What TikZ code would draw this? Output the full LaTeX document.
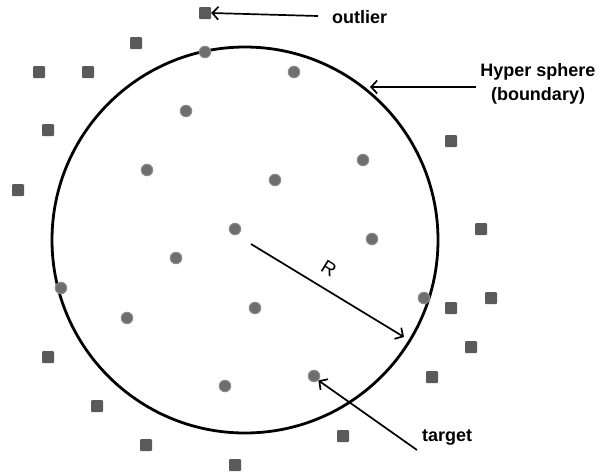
\documentclass[tikz,border=0pt]{standalone}
\usepackage{fontspec}
\setmainfont{Liberation Sans}
\usetikzlibrary{arrows.meta}
\definecolor{sqc}{HTML}{5A5A5A}
\definecolor{dotc}{HTML}{6E6E6E}
\definecolor{dotb}{HTML}{8C8C8C}
\begin{document}
\begin{tikzpicture}[x=1pt,y=-1pt,
 sq/.style={fill=sqc, draw=none, minimum size=12pt, inner sep=0pt, rounded corners=1pt},
 dot/.style={circle, fill=dotc, draw=dotb, line width=1pt, minimum size=11.5pt, inner sep=0pt},
 lbl/.style={font=\bfseries\fontsize{18}{24}\selectfont, inner sep=0pt},
 arr/.style={line width=1.7pt, -{Straight Barb[length=6pt,width=13pt,line width=1.7pt]}}]
\useasboundingbox[fill=white] (0,0) rectangle (608,475);
% hypersphere
\node[circle, draw, line width=2.8pt, minimum size=386pt, inner sep=0pt] (sph) at (245,240) {};
% squares (outliers)
\node[sq] (s1) at (205,13) {};
\node[sq] (s2) at (136,43) {};
\node[sq] (s3) at (39,72) {};
\node[sq] (s4) at (88,72) {};
\node[sq] (s5) at (48,130) {};
\node[sq] (s6) at (18,190) {};
\node[sq] (s7) at (451,141) {};
\node[sq] (s8) at (481,229) {};
\node[sq] (s9) at (491,298) {};
\node[sq] (s10) at (451,308) {};
\node[sq] (s11) at (471,347) {};
\node[sq] (s12) at (432,377) {};
\node[sq] (s13) at (48,357) {};
\node[sq] (s14) at (97,406) {};
\node[sq] (s15) at (343,436) {};
\node[sq] (s16) at (146,445) {};
\node[sq] (s17) at (235,465) {};
% dots (targets)
\node[dot] (d1) at (205,52) {};
\node[dot] (d2) at (294,72) {};
\node[dot] (d3) at (186,111) {};
\node[dot] (d4) at (147,170) {};
\node[dot] (d5) at (363,160) {};
\node[dot] (d6) at (275,180) {};
\node[dot] (d7) at (235,229) {};
\node[dot] (d8) at (372,239) {};
\node[dot] (d9) at (176,258) {};
\node[dot] (d10) at (61,288) {};
\node[dot] (d11) at (424,298) {};
\node[dot] (d12) at (127,318) {};
\node[dot] (d13) at (255,308) {};
\node[dot] (d14) at (225,386) {};
\node[dot] (d15) at (314,376) {};
% labels
\node[lbl, anchor=west] (lout) at (332,17) {outlier};
\node[lbl, align=center] (lhs) at (538,84) {Hyper sphere\\(boundary)};
\node[lbl, anchor=west] (ltg) at (422,438) {target};
\node[font=\fontsize{19}{21}\selectfont, rotate=-31.5, inner sep=0pt] (lr) at (329,269) {R};
% connectors
\coordinate (aout) at (318,16);
\coordinate (ahs) at (476,87);
\coordinate (hsend) at (370,87);
\coordinate (atg) at (417,450);
\coordinate (rs) at (251,244);
\coordinate (re) at (404,337);
\draw[arr] (aout) -- (s1.east);
\draw[arr] (ahs) -- (hsend);
\draw[arr] (atg) -- (d15.south east);
\draw[arr] (rs) -- (re);
\end{tikzpicture}
\end{document}
